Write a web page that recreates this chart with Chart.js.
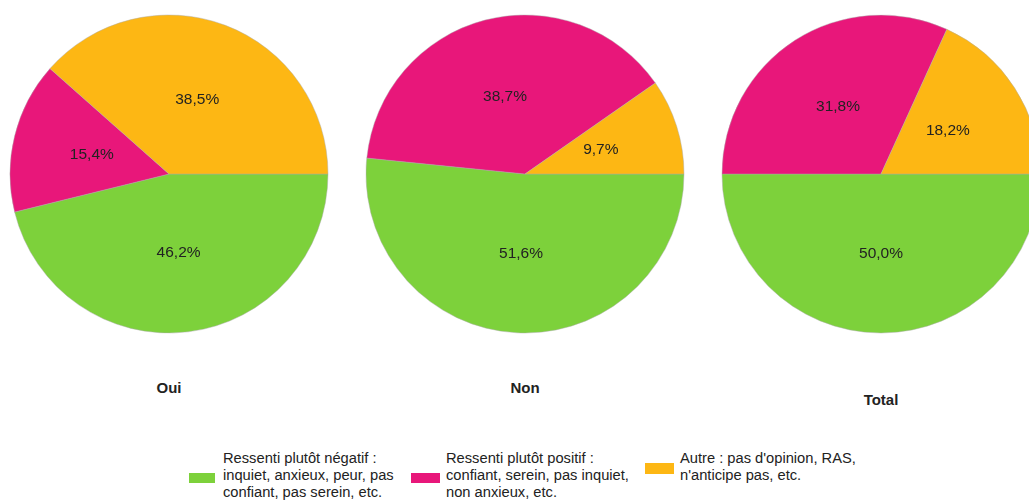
<!DOCTYPE html>
<html lang="fr">
<head>
<meta charset="utf-8">
<script src="https://cdn.jsdelivr.net/npm/chart.js@4.4.1/dist/chart.umd.min.js"></script>
<style>
  html, body { margin: 0; padding: 0; width: 1029px; height: 500px; overflow: hidden; background: #fff; }
  body { position: relative; font-family: 'Liberation Sans', Arial, sans-serif; color: #222; }
  .pie { position: absolute; top: 14px; width: 320px; height: 320px; }
  .titre { position: absolute; width: 120px; margin-left: -60px; text-align: center; font-weight: bold; font-size: 15px; line-height: 18px; }
  .leg-box { position: absolute; }
  .leg-txt { position: absolute; font-size: 14.7px; line-height: 17px; white-space: nowrap; }
</style>
</head>
<body>
<div class="pie" style="left:9px"><canvas id="pie0" width="320" height="320"></canvas></div>
<div class="pie" style="left:365px"><canvas id="pie1" width="320" height="320"></canvas></div>
<div class="pie" style="left:721px"><canvas id="pie2" width="320" height="320"></canvas></div>

<div class="titre" style="left:169px; top:379px">Oui</div>
<div class="titre" style="left:525px; top:379px">Non</div>
<div class="titre" style="left:881px; top:391px">Total</div>

<div id="legend"></div>

<script>
// --- Données ---
const categories = ['Oui', 'Non', 'Total'];
const seriesNames = [
    ['Ressenti plutôt négatif :', 'inquiet, anxieux, peur, pas', 'confiant, pas serein, etc.'],
    ['Ressenti plutôt positif :', 'confiant, serein, pas inquiet,', 'non anxieux, etc.'],
    ['Autre : pas d\'opinion, RAS,', 'n\'anticipe pas, etc.']
];
const negatif = [46.2, 51.6, 50.0];
const positif = [15.4, 38.7, 31.8];
const autre = [38.5, 9.7, 18.2];

const couleurs = ['#7dd13b', '#e8177a', '#fdb714'];

// --- Étiquettes en pourcentage au milieu des parts ---
const pctLabels = {
    id: 'pctLabels',
    afterDatasetsDraw(chart) {
        const ctx = chart.ctx;
        const meta = chart.getDatasetMeta(0);
        const values = chart.data.datasets[0].data;
        ctx.save();
        ctx.font = "15.5px 'Liberation Sans', Arial, sans-serif";
        ctx.fillStyle = '#222';
        ctx.textAlign = 'center';
        ctx.textBaseline = 'middle';
        meta.data.forEach((arc, i) => {
            const p = arc.getProps(['x', 'y', 'startAngle', 'endAngle', 'outerRadius'], true);
            const mid = (p.startAngle + p.endAngle) / 2;
            const r = p.outerRadius * 0.5;
            const txt = values[i].toFixed(1).replace('.', ',') + '%';
            ctx.fillText(txt, p.x + Math.cos(mid) * r, p.y + Math.sin(mid) * r);
        });
        ctx.restore();
    }
};

categories.forEach((cat, i) => {
    new Chart(document.getElementById('pie' + i), {
        type: 'pie',
        data: {
            labels: seriesNames.map(n => n.join(' ')),
            datasets: [{
                data: [negatif[i], positif[i], autre[i]],
                backgroundColor: couleurs,
                borderColor: 'rgba(170,170,170,0.45)',
                borderWidth: 1
            }]
        },
        options: {
            responsive: false,
            animation: false,
            rotation: 90,
            radius: 159,
            layout: { padding: 0 },
            plugins: {
                legend: { display: false },
                tooltip: { enabled: false }
            }
        },
        plugins: [pctLabels]
    });
});

// --- Légende ---
const legendPos = [
    { box: [189, 473, 26, 10], txt: [223, 450] },
    { box: [411, 473, 29, 10], txt: [446, 450] },
    { box: [645, 463, 29, 11], txt: [680, 450] }
];
const legend = document.getElementById('legend');
seriesNames.forEach((lines, i) => {
    const pos = legendPos[i];
    legend.innerHTML += `
        <div class="leg-box" style="left:${pos.box[0]}px;top:${pos.box[1]}px;width:${pos.box[2]}px;height:${pos.box[3]}px;background:${couleurs[i]}"></div>
        <div class="leg-txt" style="left:${pos.txt[0]}px;top:${pos.txt[1]}px">${lines.join('<br>')}</div>
    `;
});
</script>
</body>
</html>
